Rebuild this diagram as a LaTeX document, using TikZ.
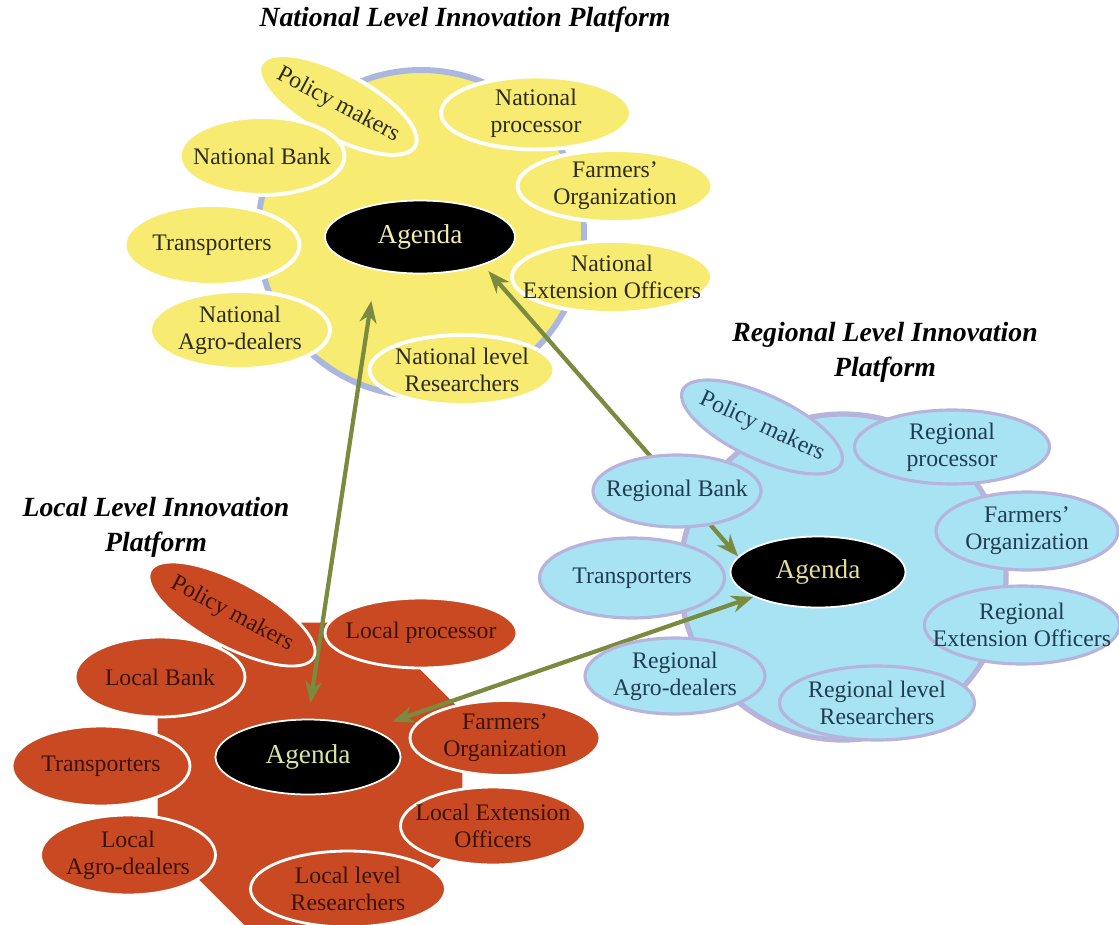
\documentclass[tikz,border=0pt]{standalone}
\usepackage{fontspec}
\setmainfont{Liberation Serif}
\usetikzlibrary{shapes.geometric,arrows.meta}
\definecolor{natfill}{HTML}{F8EB72}
\definecolor{natring}{HTML}{AAB8E0}
\definecolor{regfill}{HTML}{A8E3F4}
\definecolor{regring}{HTML}{B6B3DC}
\definecolor{locfill}{HTML}{C94A22}
\definecolor{linkgreen}{HTML}{7A8A3E}
\definecolor{nattext}{HTML}{2E2B1C}
\definecolor{regtext}{HTML}{1E3E50}
\definecolor{loctext}{HTML}{3A1206}
\definecolor{natagenda}{HTML}{F3EDB0}
\definecolor{regagenda}{HTML}{E6DC9A}
\definecolor{locagenda}{HTML}{D5E6A0}
\tikzset{
  esize/.style 2 args={minimum width=#1cm, minimum height=#2cm},
  actor/.style={ellipse, inner xsep=-0.4cm, inner ysep=0pt, align=center,
    font=\fontsize{13.5}{15.3}\selectfont},
  natbox/.style={actor, fill=natfill, draw=white, line width=2.2pt, text=nattext},
  regbox/.style={actor, fill=regfill, draw=regring, line width=1.8pt, text=regtext},
  locbox/.style={actor, fill=locfill, draw=white, line width=1.6pt, text=loctext},
  agenda/.style={actor, fill=black, draw=white, line width=1pt,
    font=\fontsize{15.5}{17}\selectfont},
  link/.style={linkgreen, line width=2.4pt,
    {Stealth[length=0.44cm,width=0.34cm]}-{Stealth[length=0.44cm,width=0.34cm]}},
  ptitle/.style={align=center, font=\fontsize{15.8}{20}\selectfont\bfseries\itshape}
}
\begin{document}
\begin{tikzpicture}[x=0.02cm, y=-0.02cm]
    \useasboundingbox (0,0) rectangle (1119,924);
    \fill[white] (0,0) rectangle (1119,924);
    \draw[natring, line width=3.4pt, fill=natfill] (421,233) circle (163);
    \draw[regring, line width=3pt, fill=regfill] (843,577) circle (163);
    \fill[locfill, shift={(310,775)}] (22.5:165)
        \foreach \a in {67.5,112.5,...,337.5} {-- (\a:165)} -- cycle;

    \node[ptitle] (nTitle) at (465,20) {National Level Innovation Platform};
    \node[ptitle] (rTitle) at (885,352) {Regional Level Innovation\\Platform};
    \node[ptitle] (lTitle) at (156,527) {Local Level Innovation\\Platform};

    \node[agenda, esize={3.8}{1.46}, text=natagenda] (nAgenda) at (420,237) {Agenda};
    \node[agenda, esize={3.5}{1.42}, text=regagenda] (rAgenda) at (818,572) {Agenda};
    \node[agenda, esize={3.7}{1.5}, text=locagenda] (lAgenda) at (308,757) {Agenda};

    \draw[link, shorten <=0.32cm, shorten >=0.62cm] (lAgenda.north) -- (nAgenda.217);
    \draw[link, shorten <=0.16cm] (nAgenda.-24) -- (rAgenda.169);
    \draw[link, shorten <=0.44cm] (lAgenda.24) -- (rAgenda.201);

    \node[natbox, esize={3.5}{1.28}, rotate=-28] (nPol) at (338,105) {Policy makers};
    \node[natbox, esize={3.8}{1.46}] (nProc) at (536,113) {National\\processor};
    \node[natbox, esize={3.3}{1.56}] (nBank) at (262,156) {National Bank};
    \node[natbox, esize={3.9}{1.44}] (nFarm) at (615,186) {Farmers'\\Organization};
    \node[natbox, esize={3.5}{1.6}] (nTrans) at (212,245) {Transporters};
    \node[natbox, esize={4.0}{1.44}] (nExt) at (612,277) {National\\Extension Officers};
    \node[natbox, esize={3.6}{1.56}] (nAgro) at (240,330) {National\\Agro-dealers};
    \node[natbox, esize={3.7}{1.4}] (nRes) at (462,370) {National level\\Researchers};

    \node[regbox, esize={3.5}{1.28}, rotate=-25] (rPol) at (762,427) {Policy makers};
    \node[regbox, esize={3.9}{1.48}] (rProc) at (952,447) {Regional\\processor};
    \node[regbox, esize={3.36}{1.44}] (rBank) at (677,491) {Regional Bank};
    \node[regbox, esize={3.64}{1.56}] (rFarm) at (1027,531) {Farmers'\\Organization};
    \node[regbox, esize={3.7}{1.6}] (rTrans) at (632,578) {Transporters};
    \node[regbox, esize={3.7}{1.56}] (rExt) at (1022,625) {Regional\\Extension Officers};
    \node[regbox, esize={3.6}{1.52}] (rAgro) at (675,676) {Regional\\Agro-dealers};
    \node[regbox, esize={3.9}{1.48}] (rRes) at (877,703) {Regional level\\Researchers};

    \node[locbox, esize={3.7}{1.3}, rotate=-28] (lPol) at (232,614) {Policy makers};
    \node[locbox, esize={3.84}{1.4}] (lProc) at (421,633) {Local processor};
    \node[locbox, esize={3.4}{1.6}] (lBank) at (160,677) {Local Bank};
    \node[locbox, esize={3.8}{1.5}] (lFarm) at (505,738) {Farmers'\\Organization};
    \node[locbox, esize={3.56}{1.6}] (lTrans) at (101,766) {Transporters};
    \node[locbox, esize={3.7}{1.56}] (lExt) at (493,826) {Local Extension\\Officers};
    \node[locbox, esize={3.5}{1.6}] (lAgro) at (128,855) {Local\\Agro-dealers};
    \node[locbox, esize={3.9}{1.52}] (lRes) at (348,889) {Local level\\Researchers};
\end{tikzpicture}
\end{document}
